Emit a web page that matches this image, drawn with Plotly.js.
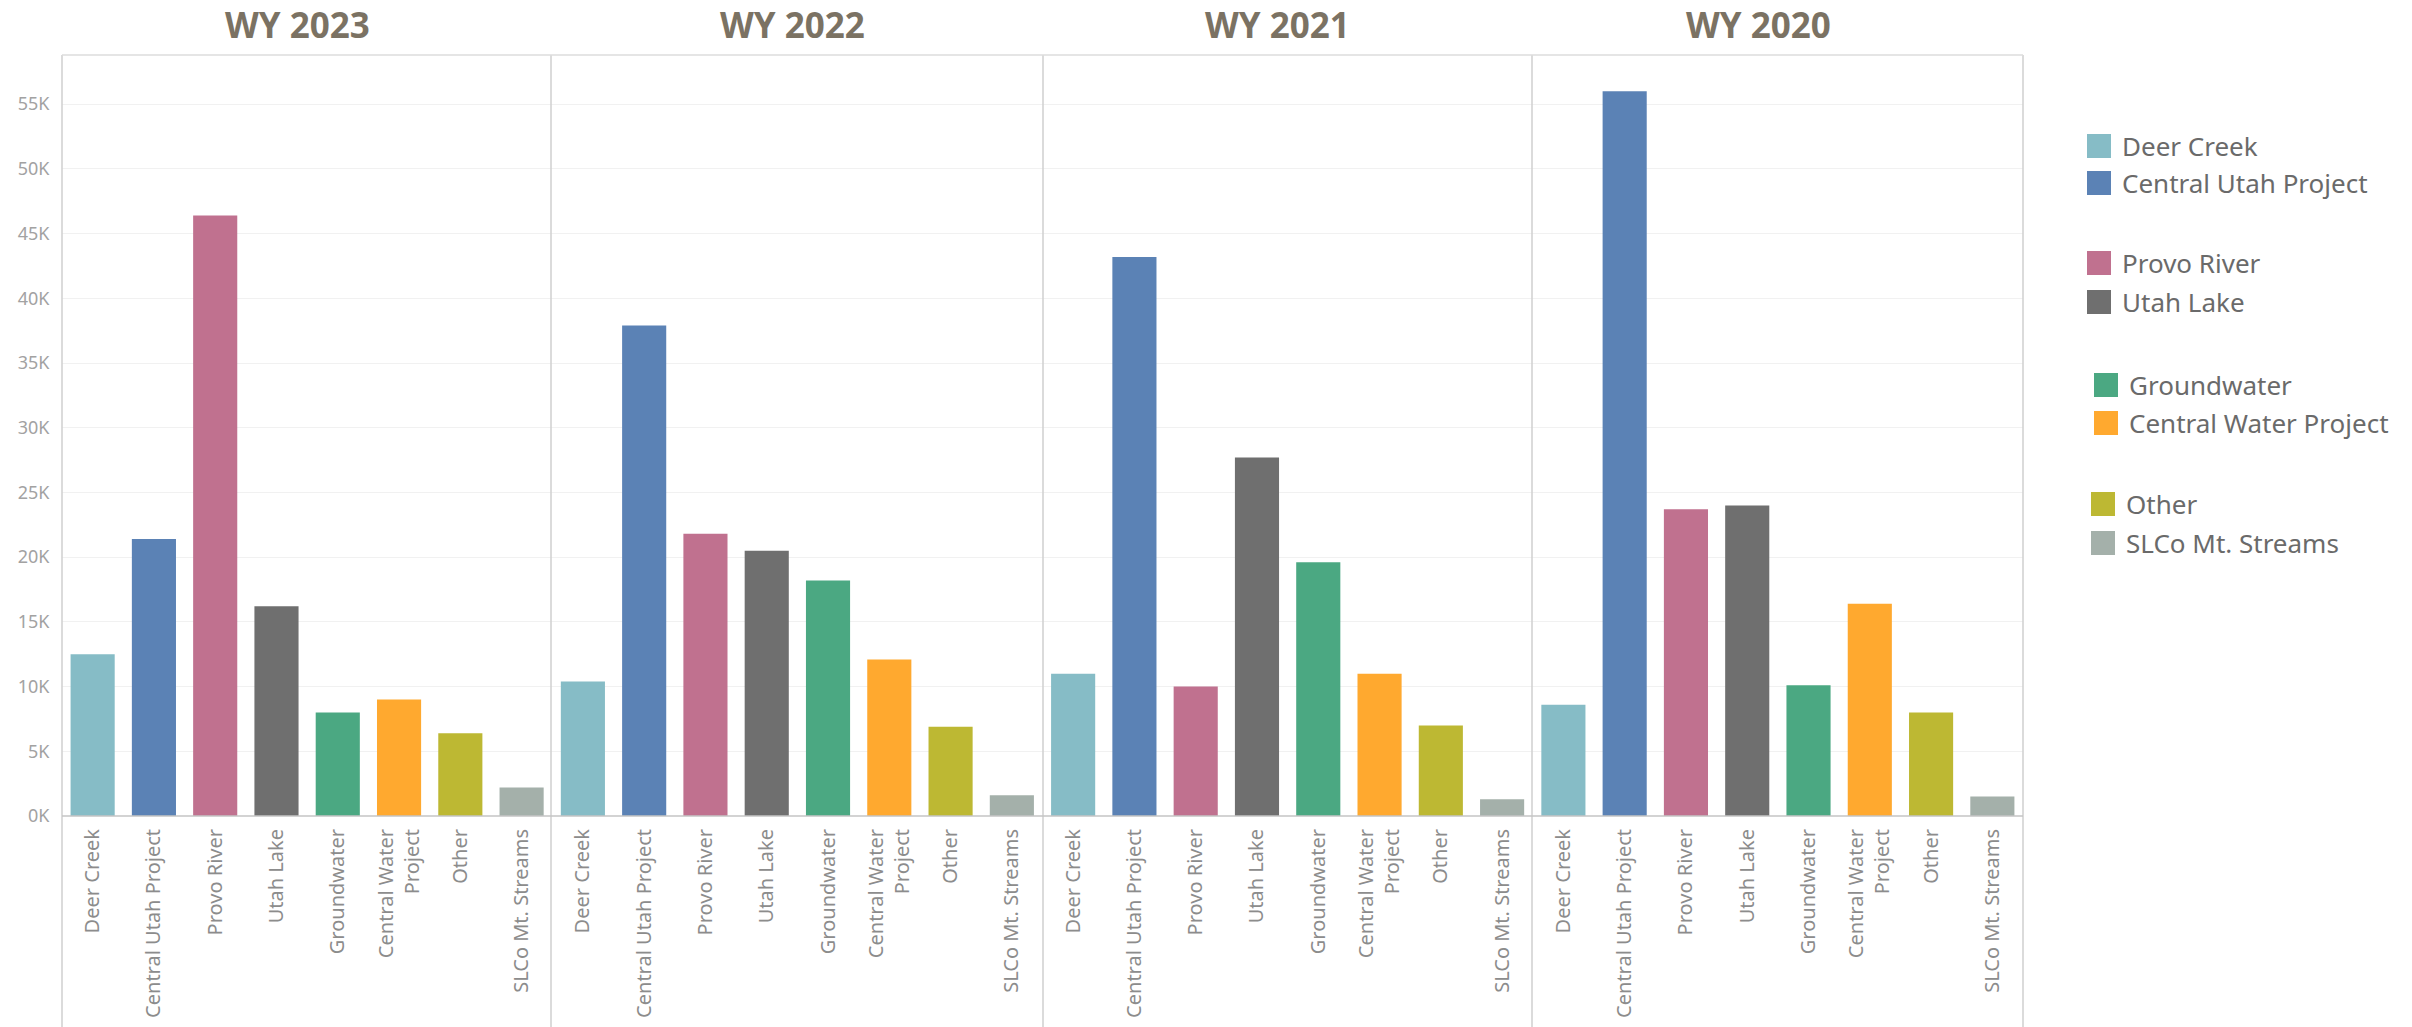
<!DOCTYPE html>
<html>
<head>
<meta charset="utf-8">
<script src="https://cdn.plot.ly/plotly-3.0.1.min.js"></script>
<style>
  html, body { margin: 0; padding: 0; background: #ffffff; }
  #chart { width: 2412px; height: 1027px; }
</style>
</head>
<body>
<div id="chart"></div>
<script>
// ---- Data ----
const categories = ['Deer Creek', 'Central Utah Project', 'Provo River', 'Utah Lake',
                    'Groundwater', 'Central Water Project', 'Other', 'SLCo Mt. Streams'];
const categoryLabels = ['Deer Creek', 'Central Utah Project', 'Provo River', 'Utah Lake',
                        'Groundwater', 'Central Water<br>Project', 'Other', 'SLCo Mt. Streams'];
const years = ['WY 2023', 'WY 2022', 'WY 2021', 'WY 2020'];
const wy2023 = [12500, 21400, 46400, 16200, 8000, 9000, 6400, 2200];
const wy2022 = [10400, 37900, 21800, 20500, 18200, 12100, 6900, 1600];
const wy2021 = [11000, 43200, 10000, 27700, 19600, 11000, 7000, 1300];
const wy2020 = [8600, 56000, 23700, 24000, 10100, 16400, 8000, 1500];
const seriesColors = ['#86bcc6', '#5b82b5', '#c0718f', '#6f6f6f',
                      '#4ba882', '#ffa92f', '#bdb833', '#a4b0aa'];
const yTickVals = [0, 5000, 10000, 15000, 20000, 25000, 30000, 35000, 40000, 45000, 50000, 55000];
const yTickText = ['0K', '5K', '10K', '15K', '20K', '25K', '30K', '35K', '40K', '45K', '50K', '55K'];

const yearValues = [wy2023, wy2022, wy2021, wy2020];

// ---- Layout geometry (pixels) ----
const W = 2412, H = 1027;
const L = 62, R = 2023, T = 55, B = 816;
const pw = R - L, ph = B - T;
const px2x = p => (p - L) / pw;
const py2y = p => (B - p) / ph;

const traces = yearValues.map((vals, i) => ({
  type: 'bar',
  x: categories,
  y: vals,
  xaxis: i === 0 ? 'x' : 'x' + (i + 1),
  yaxis: 'y',
  marker: { color: seriesColors, line: { width: 0 } },
  showlegend: false,
  hoverinfo: 'x+y'
}));

const layout = {
  width: W, height: H,
  margin: { l: L, r: W - R, t: T, b: H - B, pad: 0 },
  paper_bgcolor: '#ffffff',
  plot_bgcolor: '#ffffff',
  bargap: 0.28,
  showlegend: false,
  font: { family: 'Noto Sans, sans-serif', color: '#8a8a8a' },
  yaxis: {
    range: [0, 58800],
    tickvals: yTickVals,
    ticktext: yTickText,
    tickfont: { size: 18, color: '#a2a2a2', family: 'Noto Sans, sans-serif' },
    showgrid: true,
    gridcolor: '#f1f1f1',
    gridwidth: 1,
    zeroline: false,
    showline: false,
    ticks: 'outside', ticklen: 8, tickcolor: 'rgba(0,0,0,0)',
    automargin: false,
    fixedrange: true
  },
  shapes: [],
  annotations: []
};

for (let i = 0; i < 4; i++) {
  const key = i === 0 ? 'xaxis' : 'xaxis' + (i + 1);
  layout[key] = {
    domain: [i / 4, (i + 1) / 4],
    anchor: 'y',
    type: 'category',
    tickvals: categories,
    ticktext: categoryLabels,
    tickangle: -90,
    tickfont: { size: 20, color: '#8c8c8c', family: 'Noto Sans, sans-serif' },
    showgrid: false,
    zeroline: false,
    showline: false,
    ticks: 'outside', ticklen: 4, tickcolor: 'rgba(0,0,0,0)',
    automargin: false,
    fixedrange: true
  };
}

// Frame lines: left axis, panel dividers, right edge (extend through label area)
const vlines = [L, 551, 1043, 1532, R];
vlines.forEach(xp => {
  layout.shapes.push({
    type: 'line', xref: 'paper', yref: 'paper',
    x0: px2x(xp), x1: px2x(xp), y0: py2y(H), y1: py2y(T),
    line: { color: '#cfcfcf', width: 1.5 }, layer: 'above'
  });
});
// top border
layout.shapes.push({
  type: 'line', xref: 'paper', yref: 'paper',
  x0: 0, x1: 1, y0: 1, y1: 1,
  line: { color: '#dcdcdc', width: 1.5 }, layer: 'above'
});
// baseline
layout.shapes.push({
  type: 'line', xref: 'paper', yref: 'paper',
  x0: 0, x1: 1, y0: 0, y1: 0,
  line: { color: '#c4c4c4', width: 1.5 }, layer: 'above'
});

// Panel titles
const titleCenters = [297, 792, 1277, 1758];
years.forEach((yr, i) => {
  layout.annotations.push({
    text: '<b>' + yr + '</b>',
    xref: 'paper', yref: 'paper',
    x: px2x(titleCenters[i]), y: py2y(24),
    xanchor: 'center', yanchor: 'middle',
    showarrow: false,
    font: { family: 'Open Sans, sans-serif', size: 35, color: '#7b7263' }
  });
});

// Legend (manual, grouped in pairs)
const legY = [146, 183, 263, 302, 385, 423, 504, 543];
const legX = [2087, 2087, 2087, 2087, 2094, 2094, 2091, 2091];
const sq = 24;
categories.forEach((name, i) => {
  layout.shapes.push({
    type: 'rect', xref: 'paper', yref: 'paper',
    x0: px2x(legX[i]), x1: px2x(legX[i] + sq),
    y0: py2y(legY[i] + sq / 2), y1: py2y(legY[i] - sq / 2),
    fillcolor: seriesColors[i], line: { width: 0 }
  });
  layout.annotations.push({
    text: name,
    xref: 'paper', yref: 'paper',
    x: px2x(legX[i] + sq + 9), y: py2y(legY[i]),
    xanchor: 'left', yanchor: 'middle',
    showarrow: false,
    font: { family: 'Noto Sans, sans-serif', size: 26, color: '#6a6a6a' }
  });
});

Plotly.newPlot('chart', traces, layout, { displayModeBar: false, staticPlot: true });
</script>
</body>
</html>
